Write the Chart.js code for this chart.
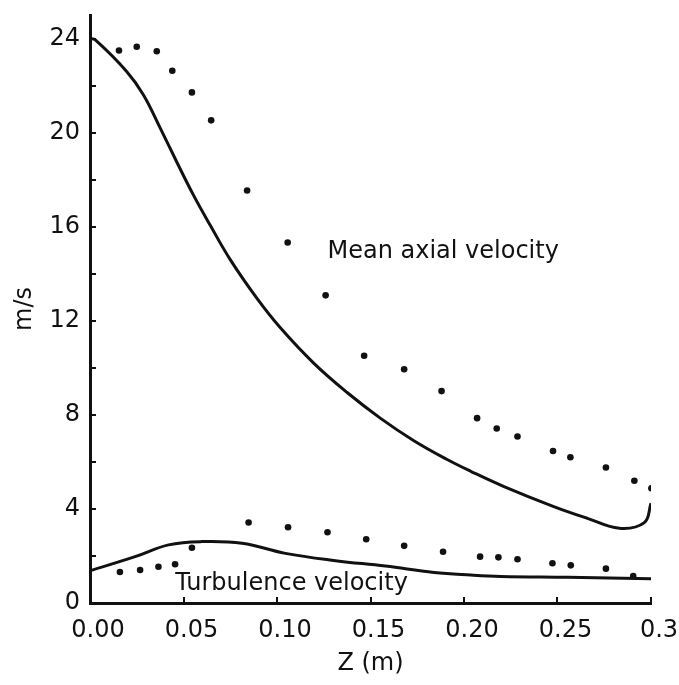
<!DOCTYPE html>
<html>
<head>
<meta charset="utf-8">
<script src="https://cdn.jsdelivr.net/npm/chart.js@4.4.1/dist/chart.umd.min.js"></script>
<style>
  html, body { margin: 0; padding: 0; background: #fff; }
</style>
</head>
<body>
<canvas id="chart" width="679" height="685"></canvas>
<script>
// Measured mean axial velocity (dots)
const meanDotZ = [0.0155, 0.025, 0.0357, 0.044, 0.0545, 0.0648, 0.084, 0.1057, 0.126, 0.1466, 0.168, 0.188, 0.207, 0.2175, 0.2286, 0.2476, 0.2569, 0.2759, 0.2911, 0.3002];
const meanDotV = [23.49, 23.65, 23.46, 22.63, 21.71, 20.52, 17.54, 15.33, 13.08, 10.51, 9.94, 9.01, 7.86, 7.42, 7.08, 6.46, 6.2, 5.76, 5.2, 4.88];

// Measured turbulence velocity (dots)
const turbDotZ = [0.016, 0.0268, 0.0366, 0.0455, 0.0545, 0.0848, 0.1059, 0.127, 0.1477, 0.168, 0.1888, 0.2086, 0.2184, 0.2286, 0.2473, 0.2571, 0.2759, 0.2905];
const turbDotV = [1.32, 1.4, 1.54, 1.65, 2.35, 3.42, 3.22, 3.01, 2.71, 2.43, 2.18, 1.97, 1.94, 1.86, 1.69, 1.6, 1.46, 1.15];

// Predicted mean axial velocity (curve)
const meanLineZ = [0, 0.0027, 0.0196, 0.0286, 0.0375, 0.0464, 0.0554, 0.0643, 0.075, 0.0893, 0.1018, 0.1196, 0.1375, 0.1554, 0.1732, 0.191, 0.2036, 0.2214, 0.248, 0.266, 0.283, 0.2964, 0.3];
const meanLineV = [24.0, 23.95, 22.6, 21.6, 20.2, 18.75, 17.33, 16.06, 14.6, 12.95, 11.7, 10.2, 8.95, 7.85, 6.9, 6.1, 5.6, 4.95, 4.1, 3.6, 3.18, 3.42, 4.24];

// Predicted turbulence velocity (curve)
const turbLineZ = [0, 0.0241, 0.042, 0.0598, 0.0813, 0.1045, 0.1313, 0.158, 0.184, 0.2036, 0.2197, 0.2555, 0.3];
const turbLineV = [1.37, 1.97, 2.47, 2.61, 2.54, 2.11, 1.8, 1.57, 1.3, 1.19, 1.13, 1.09, 1.03];

const xTickLabels = ['0.00', '0.05', '0.10', '0.15', '0.20', '0.25', '0.3'];

// Curve captions: text, Z and velocity of the text baseline start
const captionText = ['Mean axial velocity', 'Turbulence velocity'];
const captionZ = [0.127, 0.0456];
const captionV = [14.68, 0.55];

const ink = '#111';
const font = { family: '"DejaVu Sans", sans-serif', size: 24 };

function zip(xs, ys) {
  return xs.map((x, i) => ({ x: x, y: ys[i] }));
}

function dots(xs, ys) {
  return {
    data: zip(xs, ys),
    showLine: false,
    pointRadius: 3.3,
    pointBackgroundColor: ink,
    pointBorderWidth: 0
  };
}

function curve(xs, ys) {
  return {
    data: zip(xs, ys),
    showLine: true,
    borderColor: ink,
    borderWidth: 3,
    pointRadius: 0,
    tension: 0.4
  };
}

// Draws the curve captions inside the plot
const captions = {
  id: 'captions',
  afterDatasetsDraw(chart) {
    const { ctx, scales } = chart;
    ctx.save();
    ctx.font = font.size + 'px ' + font.family;
    ctx.fillStyle = ink;
    ctx.textBaseline = 'alphabetic';
    captionText.forEach((t, i) => {
      ctx.fillText(t, scales.x.getPixelForValue(captionZ[i]), scales.y.getPixelForValue(captionV[i]));
    });
    ctx.restore();
  }
};

new Chart(document.getElementById('chart'), {
  type: 'scatter',
  data: {
    datasets: [
      curve(meanLineZ, meanLineV),
      curve(turbLineZ, turbLineV),
      dots(meanDotZ, meanDotV),
      dots(turbDotZ, turbDotV)
    ]
  },
  options: {
    responsive: false,
    animation: false,
    layout: { padding: { top: 15, right: 28, bottom: 0, left: 0 } },
    plugins: { legend: { display: false }, tooltip: { enabled: false } },
    scales: {
      x: {
        type: 'linear',
        min: 0,
        max: 0.3,
        afterFit: s => {
          s.height = 82;
          s.paddingLeft = 0;
          s.paddingRight = 0;
        },
        grid: { drawOnChartArea: false, drawTicks: true, tickLength: -6, color: ink, lineWidth: 2 },
        border: { color: ink, width: 3 },
        ticks: {
          stepSize: 0.05,
          autoSkip: false,
          maxRotation: 0,
          labelOffset: 8,
          padding: 19,
          color: ink,
          font: font,
          callback: (v, i) => xTickLabels[i]
        },
        title: { display: true, text: 'Z (m)', color: ink, font: font, padding: { top: 0, bottom: 7 } }
      },
      y: {
        min: 0,
        max: 25,
        afterFit: s => {
          s.width = 90;
          s.paddingTop = 0;
          s.paddingBottom = 0;
        },
        grid: { drawOnChartArea: false, drawTicks: true, tickLength: -6, color: ink, lineWidth: 2 },
        border: { color: ink, width: 3 },
        ticks: {
          stepSize: 2,
          includeBounds: false,
          autoSkip: false,
          padding: 16,
          color: ink,
          font: font,
          callback: v => (v % 4 === 0 ? String(v) : '')
        },
        title: { display: true, text: 'm/s', color: ink, font: font, padding: { top: 10, bottom: 0 } }
      }
    }
  },
  plugins: [captions]
});
</script>
</body>
</html>
